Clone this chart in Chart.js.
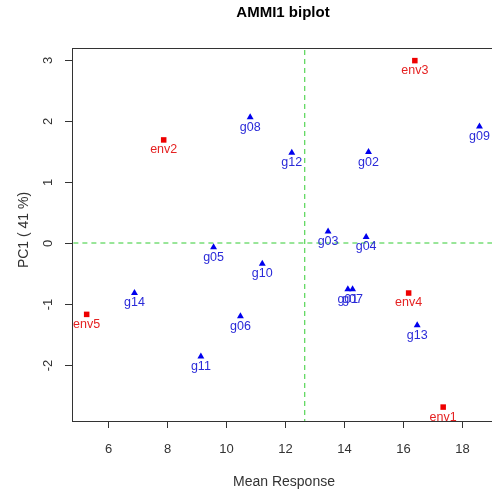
<!DOCTYPE html>
<html lang="en">
<head>
<meta charset="UTF-8">
<title>AMMI1 biplot</title>
<script src="https://cdn.jsdelivr.net/npm/chart.js@4.4.1/dist/chart.umd.min.js"></script>
<style>
  html, body { margin: 0; padding: 0; background: #fff; overflow: hidden; }
  canvas { display: block; }
</style>
</head>
<body>
<canvas id="biplot" width="500" height="490"></canvas>
<script>
// genotype scores (mean response, PC1)
const genotypes = ['g01', 'g02', 'g03', 'g04', 'g05', 'g06', 'g07', 'g08', 'g09', 'g10', 'g11', 'g12', 'g13', 'g14'];
const genoMean = [14.13, 14.83, 13.46, 14.75, 9.58, 10.49, 14.29, 10.82, 18.59, 11.23, 9.15, 12.23, 16.48, 6.90];
const genoPC1 = [-0.76, 1.49, 0.19, 0.10, -0.07, -1.20, -0.76, 2.06, 1.91, -0.34, -1.86, 1.48, -1.35, -0.82];

// environment scores
const envs = ['env1', 'env2', 'env3', 'env4', 'env5'];
const envMean = [17.36, 7.89, 16.40, 16.19, 5.28];
const envPC1 = [-2.69, 1.69, 2.99, -0.82, -1.17];

const grandMean = 12.67;
const xTicks = [6, 8, 10, 12, 14, 16, 18];
const yTicks = [-2, -1, 0, 1, 2, 3];

const FONT = '"Liberation Sans", Arial, sans-serif';
const AXIS_COL = '#333';

// point labels under each marker
const pointLabels = {
  id: 'pointLabels',
  afterDatasetsDraw(chart) {
    const ctx = chart.ctx;
    ctx.save();
    ctx.font = '12.5px ' + FONT;
    ctx.textAlign = 'center';
    ctx.textBaseline = 'middle';
    chart.data.datasets.forEach((ds, i) => {
      if (!ds.labels) return;
      ctx.fillStyle = ds.labelColor;
      chart.getDatasetMeta(i).data.forEach((pt, j) => {
        ctx.fillText(ds.labels[j], pt.x, pt.y + 10);
      });
    });
    ctx.restore();
  }
};

// R style box, ticks, titles
const rFrame = {
  id: 'rFrame',
  afterDraw(chart) {
    const { ctx, chartArea: a, scales: { x, y } } = chart;
    ctx.save();
    ctx.strokeStyle = AXIS_COL;
    ctx.fillStyle = AXIS_COL;
    ctx.lineWidth = 1;
    ctx.strokeRect(a.left + 0.5, a.top + 0.5, a.right - a.left, a.bottom - a.top);

    ctx.font = '13px ' + FONT;
    ctx.textAlign = 'center';
    ctx.textBaseline = 'middle';
    xTicks.forEach(v => {
      const px = Math.round(x.getPixelForValue(v)) + 0.5;
      ctx.beginPath();
      ctx.moveTo(px, a.bottom);
      ctx.lineTo(px, a.bottom + 7);
      ctx.stroke();
      ctx.fillText(String(v), px, a.bottom + 28);
    });
    yTicks.forEach(v => {
      const py = Math.round(y.getPixelForValue(v)) + 0.5;
      ctx.beginPath();
      ctx.moveTo(a.left - 7, py);
      ctx.lineTo(a.left, py);
      ctx.stroke();
      ctx.save();
      ctx.translate(a.left - 24, py);
      ctx.rotate(-Math.PI / 2);
      ctx.fillText(String(v), 0, 0);
      ctx.restore();
    });

    ctx.font = '14px ' + FONT;
    ctx.fillText('Mean Response', 284, 482);
    ctx.save();
    ctx.translate(24, 230);
    ctx.rotate(-Math.PI / 2);
    ctx.fillText('PC1 ( 41 %)', 0, 0);
    ctx.restore();

    ctx.fillStyle = '#000';
    ctx.font = 'bold 15px ' + FONT;
    ctx.fillText('AMMI1 biplot', 283, 13);
    ctx.restore();
  }
};

const dashGreen = '#33cc33';

new Chart(document.getElementById('biplot'), {
  type: 'scatter',
  data: {
    datasets: [
      {
        data: genotypes.map((_, i) => ({ x: genoMean[i], y: genoPC1[i] })),
        labels: genotypes,
        labelColor: '#2a2ad8',
        pointStyle: 'triangle',
        pointRadius: 4,
        pointBackgroundColor: '#0000ee',
        pointBorderColor: '#0000ee',
        pointBorderWidth: 0,
        order: 1
      },
      {
        data: envs.map((_, i) => ({ x: envMean[i], y: envPC1[i] })),
        labels: envs,
        labelColor: '#e52222',
        pointStyle: 'rect',
        pointRadius: 3.9,
        pointBackgroundColor: '#ee0000',
        pointBorderColor: '#ee0000',
        pointBorderWidth: 0,
        order: 1
      },
      {
        data: [{ x: grandMean, y: -4 }, { x: grandMean, y: 4 }],
        showLine: true,
        borderColor: dashGreen,
        borderWidth: 1,
        borderDash: [5, 4],
        pointRadius: 0,
        order: 2
      },
      {
        data: [{ x: 3, y: 0 }, { x: 21, y: 0 }],
        showLine: true,
        borderColor: dashGreen,
        borderWidth: 1,
        borderDash: [5, 4],
        pointRadius: 0,
        order: 2
      }
    ]
  },
  options: {
    responsive: false,
    animation: false,
    devicePixelRatio: 1,
    layout: { padding: { left: 72, top: 48, right: 3, bottom: 69 } },
    plugins: { legend: { display: false }, tooltip: { enabled: false }, title: { display: false } },
    scales: {
      x: { type: 'linear', display: false, min: 4.783, max: 19.15 },
      y: { type: 'linear', display: false, min: -2.918, max: 3.197 }
    }
  },
  plugins: [pointLabels, rFrame]
});
</script>
</body>
</html>
